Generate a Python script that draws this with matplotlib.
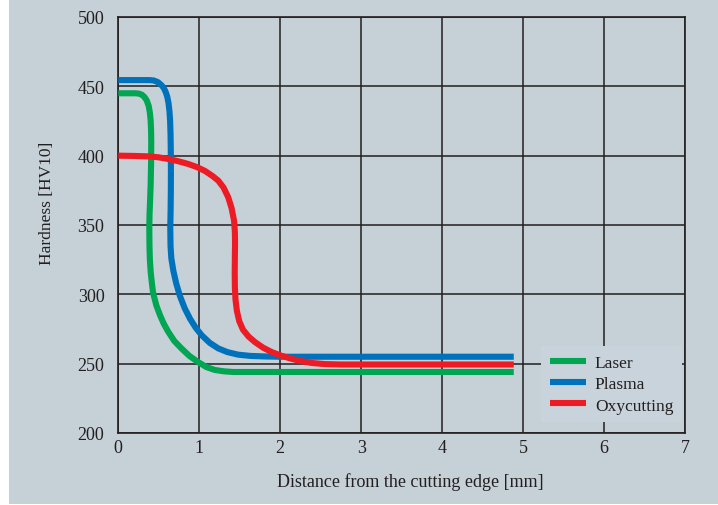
import numpy as np
import matplotlib
matplotlib.use("Agg")
import matplotlib.pyplot as plt
from matplotlib.patches import Rectangle

# data (distance mm, hardness HV10)
laser_x = [0, 0.21, 0.25, 0.29, 0.32, 0.35, 0.375, 0.39, 0.40, 0.405, 0.407, 0.405, 0.40, 0.393,
           0.386, 0.383, 0.385, 0.39, 0.40, 0.415, 0.43, 0.47, 0.515, 0.56, 0.617, 0.69, 0.78,
           0.88, 0.99, 1.09, 1.19, 1.30, 1.42, 4.885]
laser_y = [445, 445, 444.8, 444, 442.5, 440, 436, 431, 425, 418, 410, 395, 380, 368,
           358, 348, 335, 325, 316, 308, 301, 292, 285, 279, 273, 266.5, 261,
           255.5, 251, 247.5, 245.5, 244.5, 244, 244]

plasma_x = [0, 0.39, 0.44, 0.49, 0.53, 0.56, 0.585, 0.605, 0.62, 0.632, 0.64, 0.645, 0.648,
            0.65, 0.649, 0.646, 0.642, 0.645, 0.655, 0.68, 0.715, 0.76, 0.82, 0.885, 0.955,
            1.03, 1.13, 1.235, 1.35, 1.48, 1.63, 1.81, 2.0, 4.885]
plasma_y = [454.5, 454.5, 454.2, 453, 451, 449, 446, 442.5, 438, 432, 425, 416, 405,
            390, 375, 360, 348, 335, 326, 317, 308, 299, 290, 282.5, 276,
            270.5, 265, 261, 258.3, 256.5, 255.6, 255.2, 255, 255]

oxy_x = [0, 0.2, 0.37, 0.5, 0.617, 0.74, 0.864, 0.97, 1.07, 1.16, 1.235, 1.30, 1.358, 1.40,
         1.43, 1.44, 1.442, 1.44, 1.438, 1.44, 1.448, 1.465, 1.495, 1.54, 1.61, 1.69, 1.79,
         1.89, 2.01, 2.14, 2.26, 2.39, 2.55, 2.75, 4.885]
oxy_y = [400, 399.8, 399.5, 398.8, 397.6, 396, 394, 391.8, 389, 385.5, 382, 377, 370, 362,
         353, 345, 337, 328, 315, 305, 296, 288, 280.5, 274.5, 269.5, 265.5, 261.5,
         258.5, 255.8, 253.5, 251.8, 250.5, 249.7, 249.4, 249.4]

xticks = [0, 1, 2, 3, 4, 5, 6, 7]
yticks = [200, 250, 300, 350, 400, 450, 500]

bg = "#c5d0d7"
ink = "#231f20"

plt.rcParams["font.family"] = ["Liberation Serif", "DejaVu Serif"]

fig = plt.figure(figsize=(7.18, 5.06), dpi=100)
fig.patch.set_facecolor(bg)
# white strip at the left edge and bottom
fig.patches.append(Rectangle((0, 0), 9 / 718, 1, transform=fig.transFigure,
                             facecolor="white", edgecolor="none", zorder=-10))
fig.patches.append(Rectangle((0, 0), 1, 1.5 / 506, transform=fig.transFigure,
                             facecolor="white", edgecolor="none", zorder=-10))

ax = fig.add_axes([118.3 / 718, (506 - 434) / 506, (685 - 118.3) / 718, (434 - 18) / 506])
ax.set_facecolor(bg)

lw = 4.4
ax.plot(laser_x, laser_y, color="#00a651", lw=lw, solid_capstyle="butt", solid_joinstyle="round", label="Laser", zorder=3)
ax.plot(plasma_x, plasma_y, color="#0072bc", lw=lw, solid_capstyle="butt", solid_joinstyle="round", label="Plasma", zorder=3)
ax.plot(oxy_x, oxy_y, color="#ed1c24", lw=lw, solid_capstyle="butt", solid_joinstyle="round", label="Oxycutting", zorder=3)

ax.set_xlim(0, 7)
ax.set_ylim(200, 500)
ax.set_xticks(xticks)
ax.set_yticks(yticks)
ax.grid(True, color=ink, lw=1.1)
ax.set_axisbelow(True)
ax.tick_params(length=0, labelsize=13, colors=ink)
ax.tick_params(axis="y", pad=10)
ax.tick_params(axis="x", pad=4)
for s in ax.spines.values():
    s.set_color(ink)
    s.set_linewidth(1.2)

ax.set_xlabel("Distance from the cutting edge [mm]", fontsize=13, color=ink)
ax.xaxis.set_label_coords(0.515, -0.095)
ax.set_ylabel("Hardness [HV10]", fontsize=12.5, color=ink)
ax.yaxis.set_label_coords(-0.112, 0.555)

leg = ax.legend(loc="lower left", bbox_to_anchor=(0.746, 0.026), fontsize=12.5, frameon=True,
                fancybox=False, handlelength=2.1, handletextpad=0.5, labelspacing=0.3,
                borderpad=0.5, borderaxespad=0)
leg.get_frame().set_facecolor("#c8d3db")
leg.get_frame().set_edgecolor("none")
leg.get_frame().set_alpha(1)
for t in leg.get_texts():
    t.set_color(ink)

fig.savefig("out.png", dpi=100)
